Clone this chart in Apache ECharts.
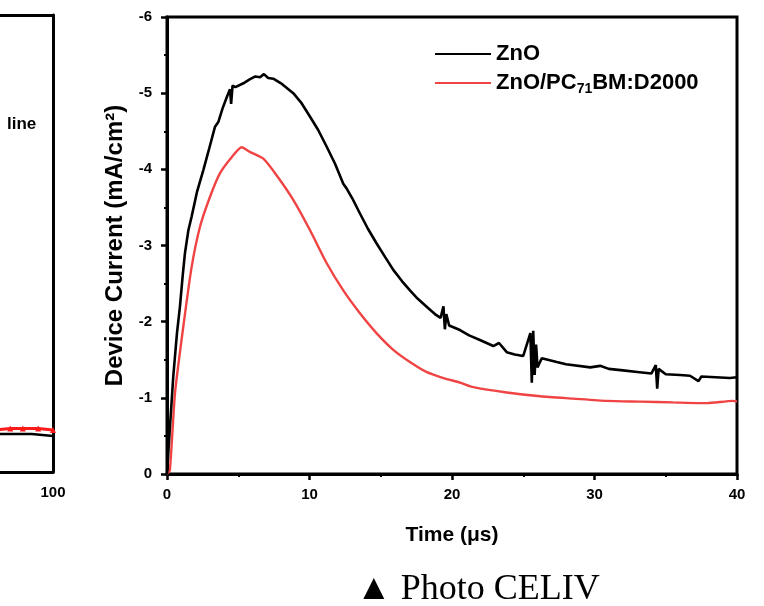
<!DOCTYPE html>
<html>
<head>
<meta charset="utf-8">
<script src="https://cdn.jsdelivr.net/npm/echarts@6/dist/echarts.min.js"></script>
<style>html,body{margin:0;padding:0;background:#fff}#c{width:764px;height:606px}</style>
</head>
<body>
<div id="c"></div>
<script>
// Main panel: Photo CELIV transients
const timeZnO = [0,0.2,0.44,0.7,0.91,1.1,1.26,1.5,1.73,2.1,2.55,3.0,3.37,3.6,3.9,4.2,4.42,4.5,4.6,4.8,5.36,5.8,6.2,6.53,6.8,7.1,7.46,8.0,8.86,9.4,10.04,10.6,11.2,11.8,12.37,12.6,13.0,13.54,14.1,14.7,15.3,15.88,16.5,17.05,17.6,18.2,18.8,19.2,19.4,19.5,19.6,19.8,20.56,21.2,21.96,22.9,23.3,23.84,24.4,25.0,25.5,25.6,25.7,25.8,25.9,26.0,26.3,27.35,28.0,29.7,30.4,31.0,32.0,33.0,34.0,34.3,34.4,34.5,35.0,36.0,36.7,37.3,37.5,38.5,39.5,40];
const currentZnO = [0,-0.6,-1.28,-1.85,-2.2,-2.6,-2.9,-3.2,-3.38,-3.7,-3.99,-4.3,-4.56,-4.62,-4.8,-4.95,-5.05,-4.86,-5.1,-5.08,-5.13,-5.18,-5.22,-5.21,-5.25,-5.2,-5.19,-5.13,-5.0,-4.88,-4.69,-4.52,-4.3,-4.07,-3.81,-3.75,-3.62,-3.42,-3.22,-3.03,-2.85,-2.68,-2.53,-2.41,-2.3,-2.2,-2.1,-2.05,-2.2,-1.9,-2.1,-1.95,-1.89,-1.82,-1.76,-1.68,-1.72,-1.6,-1.57,-1.55,-1.85,-1.2,-1.88,-1.3,-1.7,-1.4,-1.52,-1.47,-1.44,-1.4,-1.42,-1.38,-1.36,-1.34,-1.32,-1.43,-1.12,-1.38,-1.31,-1.3,-1.29,-1.22,-1.28,-1.27,-1.26,-1.27];

const timeBlend = [0,0.2,0.56,1.14,1.73,2.32,3.02,3.72,4.54,5.24,5.82,6.76,7.7,8.86,10.04,11.2,12.37,13.54,14.7,15.88,17.05,18.2,19.4,20.56,21.5,23.84,26.2,28.5,30.86,33.2,35.5,37.9,39.7,40];
const currentBlend = [0,-0.05,-1.06,-1.93,-2.72,-3.25,-3.64,-3.95,-4.16,-4.29,-4.23,-4.14,-3.92,-3.6,-3.2,-2.77,-2.41,-2.11,-1.85,-1.63,-1.47,-1.34,-1.26,-1.2,-1.14,-1.07,-1.02,-0.99,-0.96,-0.95,-0.94,-0.93,-0.96,-0.95];

// Left (cropped) panel, only its right end is visible
const leftX = [90,92.5,94.7,97.4,100];
const leftRed = [0.92,0.95,0.95,0.95,0.92];
const leftBlackX = [90,96.3,96.5,100];
const leftBlack = [0.83,0.83,0.79,0.79];

const legendNames = ['ZnO','ZnO/PC71BM:D2000'];
const RED = '#f04444';
const F = 'Liberation Sans, Arial, sans-serif';

const chart = echarts.init(document.getElementById('c'), null, {renderer:'canvas'});
chart.setOption({
  animation:false,
  backgroundColor:'#fff',
  grid:[
    {left:167,right:27,top:17,bottom:132,show:true,borderColor:'#000',borderWidth:3},
    {left:0,right:711,top:15,bottom:134,show:false}
  ],
  legend:{
    data:legendNames,padding:0,
    orient:'vertical',left:434,top:43,itemWidth:56,itemHeight:14,itemGap:7,
    itemStyle:{opacity:0},
    formatter:function(n){return n==='ZnO'?'ZnO':'ZnO/PC{sub|71}BM:D2000';},
    textStyle:{fontFamily:F,fontWeight:'bold',fontSize:22,color:'#000',
      rich:{sub:{fontFamily:F,fontWeight:'bold',fontSize:14,verticalAlign:'bottom',padding:[12,0,0,0]}}}
  },
  xAxis:[
    {gridIndex:0,type:'value',min:0,max:40,interval:10,
     name:'Time (μs)',nameLocation:'middle',nameGap:51,
     nameTextStyle:{fontFamily:F,fontWeight:'bold',fontSize:21,color:'#000'},
     axisLine:{onZero:false,lineStyle:{color:'#000',width:3}},
     axisTick:{length:6,lineStyle:{width:2.5,color:'#000'}},
     minorTick:{show:true,splitNumber:2,length:3,lineStyle:{width:2,color:'#000'}},
     axisLabel:{fontFamily:F,fontWeight:'bold',fontSize:15,color:'#000',margin:13},
     splitLine:{show:false}},
    {gridIndex:1,type:'value',min:90.7,max:100,position:'bottom',
     axisLine:{onZero:false,lineStyle:{color:'#000',width:3}},
     axisTick:{show:false},
     axisLabel:{fontFamily:F,fontWeight:'bold',fontSize:15,color:'#000',margin:13,
       showMinLabel:false,formatter:function(v){return v===100?'100':'';}},
     splitLine:{show:false}},
    {gridIndex:1,type:'value',min:90.7,max:100,position:'top',
     axisLine:{onZero:false,lineStyle:{color:'#000',width:3}},
     axisTick:{show:false},axisLabel:{show:false},splitLine:{show:false}}
  ],
  yAxis:[
    {gridIndex:0,type:'value',min:-6,max:0,interval:1,inverse:true,
     name:'Device Current (mA/cm²)',nameLocation:'middle',nameGap:37,
     nameTextStyle:{fontFamily:F,fontWeight:'bold',fontSize:24,color:'#000'},
     axisLine:{onZero:false,lineStyle:{color:'#000',width:3}},
     axisTick:{length:6,lineStyle:{width:2.5,color:'#000'}},
     minorTick:{show:true,splitNumber:2,length:3,lineStyle:{width:2,color:'#000'}},
     axisLabel:{fontFamily:F,fontWeight:'bold',fontSize:15,color:'#000',margin:15},
     splitLine:{show:false}},
    {gridIndex:1,type:'value',min:0,max:10,position:'right',
     axisLine:{onZero:false,lineStyle:{color:'#000',width:3}},
     axisTick:{show:false},axisLabel:{show:false},splitLine:{show:false}}
  ],
  series:[
    {name:'ZnO',type:'line',xAxisIndex:0,yAxisIndex:0,symbol:'none',
     data:timeZnO.map((t,i)=>[t,currentZnO[i]]),
     lineStyle:{color:'#000',width:2.6},itemStyle:{color:'#000'},z:3},
    {name:'ZnO/PC71BM:D2000',type:'line',xAxisIndex:0,yAxisIndex:0,symbol:'none',smooth:0.2,
     data:timeBlend.map((t,i)=>[t,currentBlend[i]]),
     lineStyle:{color:RED,width:2.4},itemStyle:{color:RED},z:2},
    {type:'line',xAxisIndex:1,yAxisIndex:1,symbol:'none',
     data:leftBlackX.map((t,i)=>[t,leftBlack[i]]),
     lineStyle:{color:'#000',width:2.5},z:2},
    {type:'line',xAxisIndex:1,yAxisIndex:1,symbol:'triangle',symbolSize:6,
     data:leftX.map((t,i)=>[t,leftRed[i]]),
     lineStyle:{color:'#ff1a1a',width:3},itemStyle:{color:'#ff1a1a'},z:3}
  ],
  graphic:[
    {type:'text',left:7,top:116,style:{text:'line',font:'bold 17px '+F,fill:'#000'}},
    {type:'text',left:356,top:572,style:{text:'▲ Photo CELIV',font:'36px Liberation Serif, Times New Roman, serif',fill:'#000'}}
  ]
});
</script>
</body>
</html>
